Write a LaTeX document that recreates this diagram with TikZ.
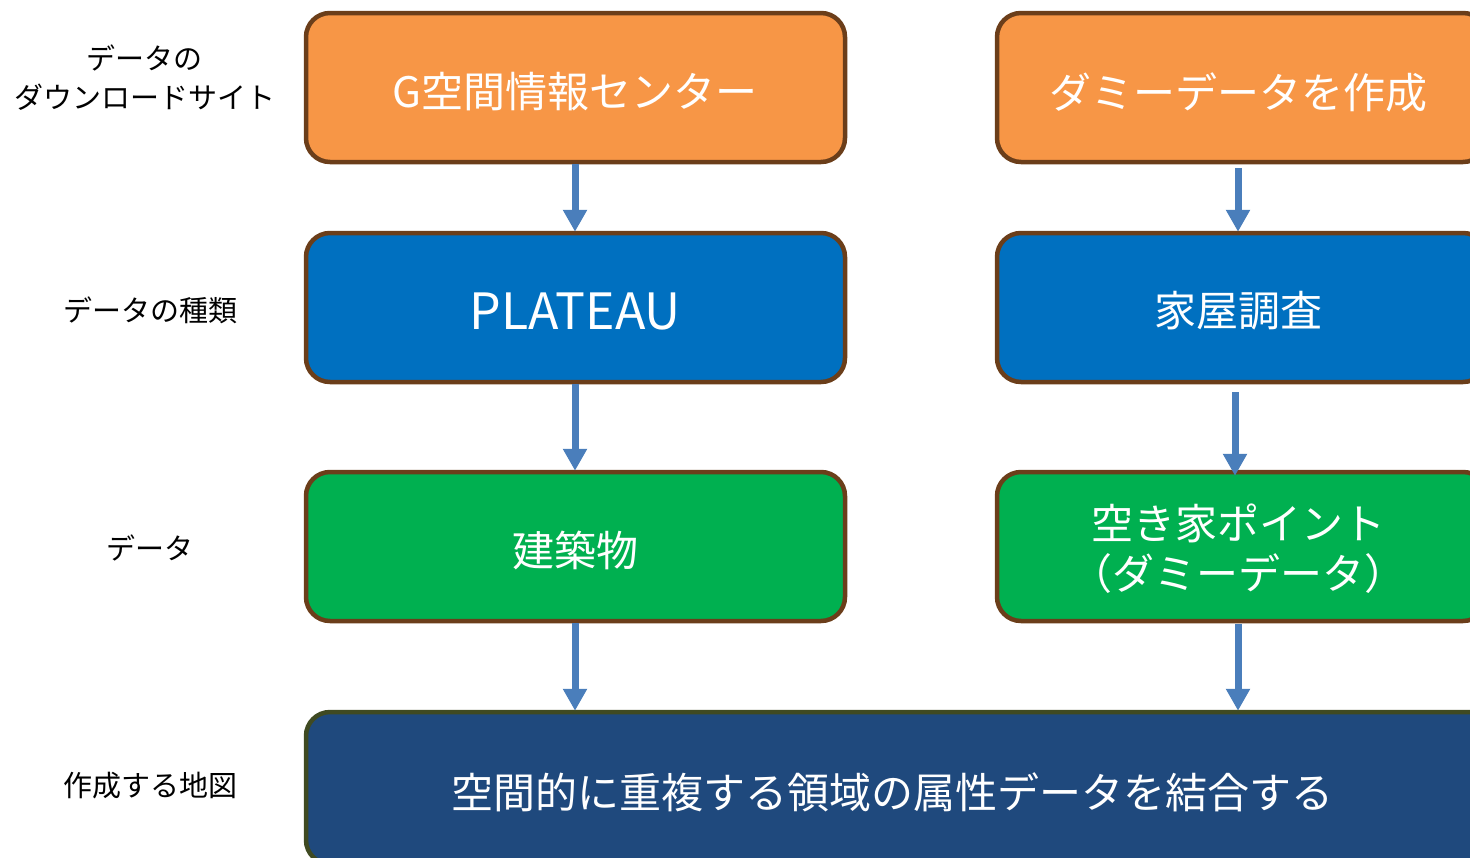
\documentclass[tikz,border=0pt]{standalone}
\usepackage{fontspec}
\setmainfont{Noto Sans CJK JP}
\usetikzlibrary{arrows.meta}
\definecolor{corange}{HTML}{F79646}
\definecolor{cblue}{HTML}{0070C0}
\definecolor{cgreen}{HTML}{00B050}
\definecolor{cnavy}{HTML}{1F497D}
\definecolor{cbrown}{HTML}{6B3E1A}
\definecolor{colive}{HTML}{3F4A22}
\definecolor{carrow}{HTML}{4A7EBB}
\tikzset{
  box/.style={draw=cbrown, line width=4.5pt, rounded corners=24pt, inner sep=0pt},
  rtext/.style={text=white, font=\fontsize{42}{50}\selectfont, align=center, inner sep=0pt},
  lbl/.style={font=\fontsize{29}{39}\selectfont, align=center, text=black},
  flow/.style={draw=carrow, line width=7pt, -{Triangle[width=23pt,length=22pt]}, shorten >=-1pt}
}
\begin{document}
\begin{tikzpicture}[x=1pt,y=-1pt]
\clip (0,0) rectangle (1470,857);
\useasboundingbox (0,0) rectangle (1470,857);
% left column
\node[box, fill=corange, minimum width=539pt, minimum height=149pt] (g) at (575.5,87.5) {};
\node[rtext] (gt) at (575,92) {G空間情報センター};
\node[box, fill=cblue, minimum width=539pt, minimum height=149pt] (p) at (575.5,307.5) {};
\node[rtext, font=\fontsize{50}{50}\selectfont] (pt) at (575,311) {PLATEAU};
\node[box, fill=cgreen, minimum width=539pt, minimum height=149pt] (b) at (575.5,546.5) {};
\node[rtext] (bt) at (575,550) {建築物};
% right column
\node[box, fill=corange, minimum width=490pt, minimum height=149pt] (d) at (1242,87.5) {};
\node[rtext] (dt) at (1238,92) {ダミーデータを作成};
\node[box, fill=cblue, minimum width=490pt, minimum height=149pt] (h) at (1242,307.5) {};
\node[rtext] (ht) at (1238,311) {家屋調査};
\node[box, fill=cgreen, minimum width=490pt, minimum height=149pt] (a) at (1242,546.5) {};
\node[rtext] (at) at (1238,549) {空き家ポイント\\（ダミーデータ）};
% bottom
\node[box, draw=colive, fill=cnavy, minimum width=1200pt, minimum height=152pt] (m) at (906,788) {};
\node[rtext] (mt) at (892,792) {空間的に重複する領域の属性データを結合する};
% side labels
\node[lbl] (l1) at (145,78) {データの\\ダウンロードサイト};
\node[lbl] (l2) at (150,310) {データの種類};
\node[lbl] (l3) at (150,548) {データ};
\node[lbl] (l4) at (150,786) {作成する地図};
% arrows
\coordinate (gs) at (575,164);
\coordinate (ps) at (575,384);
\coordinate (bs) at (575,623);
\draw[flow] (gs) -- (p.north -| gs);
\draw[flow] (ps) -- (b.north -| ps);
\draw[flow] (bs) -- (m.north -| bs);
\coordinate (ds) at (1238,168);
\coordinate (hs) at (1235,392);
\coordinate (as) at (1238,624);
\draw[flow] (ds) -- (h.north -| ds);
\draw[flow] (hs) -- ([yshift=-5pt]a.north -| hs);
\draw[flow] (as) -- (m.north -| as);
\end{tikzpicture}
\end{document}
